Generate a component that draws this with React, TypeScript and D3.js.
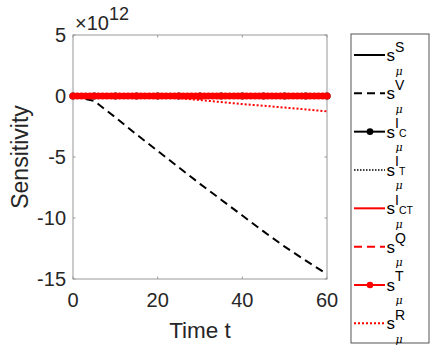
import React from 'react';
import * as d3 from 'd3';

// time grids
const timeCoarse = [0, 5, 10, 15, 20, 25, 30, 35, 40, 45, 50, 55, 60];
const timeFine = [
  0, 1, 2, 3, 4, 5, 6, 7, 8, 9, 10, 11, 12, 13, 14, 15, 16, 17, 18, 19, 20,
  21, 22, 23, 24, 25, 26, 27, 28, 29, 30, 31, 32, 33, 34, 35, 36, 37, 38, 39, 40,
  41, 42, 43, 44, 45, 46, 47, 48, 49, 50, 51, 52, 53, 54, 55, 56, 57, 58, 59, 60,
];

// sensitivities, in units of 1e12
const sS = [0, 0, 0, 0, 0, 0, 0, 0, 0, 0, 0, 0, 0];
const sV = [0, -0.4, -1.75, -3.15, -4.5, -5.85, -7.2, -8.5, -9.8, -11.1, -12.35, -13.5, -14.6];
const sIC = [0, 0, 0, 0, 0, 0, 0, 0, 0, 0, 0, 0, 0];
const sIT = [0, 0, 0, 0, 0, 0, 0, 0, 0, 0, 0, 0, 0];
const sICT = [0, 0, 0, 0, 0, 0, 0, 0, 0, 0, 0, 0, 0];
const sQ = [0, 0, 0, 0, 0, 0, 0, 0, 0, 0, 0, 0, 0];
const sT = [
  0, 0, 0, 0, 0, 0, 0, 0, 0, 0, 0, 0, 0, 0, 0, 0, 0, 0, 0, 0, 0,
  0, 0, 0, 0, 0, 0, 0, 0, 0, 0, 0, 0, 0, 0, 0, 0, 0, 0, 0, 0,
  0, 0, 0, 0, 0, 0, 0, 0, 0, 0, 0, 0, 0, 0, 0, 0, 0, 0, 0, 0,
];
const sR = [0, 0, 0, 0, -0.05, -0.18, -0.33, -0.5, -0.66, -0.8, -0.95, -1.1, -1.26];

const xTicks = [0, 20, 40, 60];
const yTicks = [5, 0, -5, -10, -15];
const legendSup = ['S', 'V', 'I', 'I', 'I', 'Q', 'T', 'R'];
const legendSupSub = ['', '', 'C', 'T', 'CT', '', '', ''];

const W = 433;
const H = 352;
const FONT = '"Liberation Sans", Arial, Helvetica, sans-serif';
const MU_FONT = '"DejaVu Serif", "Liberation Serif", serif';

const x = d3.scaleLinear().domain([0, 60]).range([73, 327]);
const y = d3.scaleLinear().domain([-15, 5]).range([279, 35]);

type Style = { color: string; dash?: string; width: number; marker?: boolean };

const series: { t: number[]; v: number[]; s: Style }[] = [
  { t: timeCoarse, v: sS, s: { color: '#000', width: 2 } },
  { t: timeCoarse, v: sV, s: { color: '#000', width: 2, dash: '8,5' } },
  { t: timeCoarse, v: sIC, s: { color: '#000', width: 2, marker: true } },
  { t: timeCoarse, v: sIT, s: { color: '#000', width: 1.5, dash: '1.5,1.5' } },
  { t: timeCoarse, v: sICT, s: { color: '#ff0000', width: 2 } },
  { t: timeCoarse, v: sQ, s: { color: '#ff0000', width: 2, dash: '8,5' } },
  { t: timeFine, v: sT, s: { color: '#ff0000', width: 2, marker: true } },
  { t: timeCoarse, v: sR, s: { color: '#ff0000', width: 2, dash: '2,2' } },
];

const line = d3.line<[number, number]>().x(d => x(d[0])).y(d => y(d[1]));

export default function App() {
  const axisColor = '#999';
  const textColor = '#262626';
  const legX0 = 351, legY0 = 34, legX1 = 429, legY1 = 343;
  const rowY = (i: number) => 55 + i * 38.33;

  return (
    <svg width={W} height={H} style={{ position: 'absolute', left: 0, top: 0, background: '#fff' }}
      fontFamily={FONT}>
      <rect x={0} y={0} width={W} height={H} fill="#fff" />

      {/* plot box */}
      <rect x={x(0)} y={y(5)} width={x(60) - x(0)} height={y(-15) - y(5)}
        fill="#fff" stroke={axisColor} strokeWidth={1} />
      {xTicks.map(t => (
        <g key={'xt' + t}>
          <line x1={x(t)} x2={x(t)} y1={y(-15)} y2={y(-15) - 2.5} stroke={axisColor} />
          <line x1={x(t)} x2={x(t)} y1={y(5)} y2={y(5) + 2.5} stroke={axisColor} />
          <text x={x(t)} y={307} textAnchor="middle" fontSize={20} fill={textColor}>{t}</text>
        </g>
      ))}
      {yTicks.map(v => (
        <g key={'yt' + v}>
          <line x1={x(0)} x2={x(0) + 2.5} y1={y(v)} y2={y(v)} stroke={axisColor} />
          <line x1={x(60)} x2={x(60) - 2.5} y1={y(v)} y2={y(v)} stroke={axisColor} />
          <text x={66} y={y(v) + 7} textAnchor="end" fontSize={20} fill={textColor}>{v}</text>
        </g>
      ))}
      <text x={75} y={30} fontSize={20} fill={textColor}>
        ×10<tspan dy={-10} fontSize={18}>12</tspan>
      </text>
      <text x={200} y={338} textAnchor="middle" fontSize={22.5} fill={textColor}>Time t</text>
      <text transform={`translate(28,${y(-5)}) rotate(-90)`} textAnchor="middle" fontSize={23}
        fill={textColor}>Sensitivity</text>

      {/* data */}
      {series.map((d, i) => {
        const pts = d.t.map((t, j) => [t, d.v[j]] as [number, number]);
        return (
          <g key={'s' + i}>
            <path d={line(pts) || ''} fill="none" stroke={d.s.color} strokeWidth={d.s.width}
              strokeDasharray={d.s.dash} />
            {d.s.marker && pts.map((p, j) => (
              <circle key={j} cx={x(p[0])} cy={y(p[1])} r={3.6} fill={d.s.color} />
            ))}
          </g>
        );
      })}

      {/* legend */}
      <rect x={legX0} y={legY0} width={legX1 - legX0} height={legY1 - legY0} fill="#fff"
        stroke="#555" strokeWidth={1} />
      {series.map((d, i) => {
        const ly = rowY(i);
        return (
          <g key={'l' + i}>
            <line x1={354} x2={385} y1={ly} y2={ly} stroke={d.s.color} strokeWidth={d.s.width}
              strokeDasharray={d.s.dash} />
            {d.s.marker && <circle cx={370} cy={ly} r={3.3} fill={d.s.color} />}
            {/* s^{sup_{sub}}_mu, as one text element */}
            <text fill="#000">
              <tspan x={386.5} y={ly + 6} fontSize={17}>s</tspan>
              <tspan x={395} y={ly - 3.5} fontSize={14}>{legendSup[i]}</tspan>
              {legendSupSub[i] && (
                <tspan x={399} y={ly + 5.5} fontSize={10.5}>{legendSupSub[i]}</tspan>
              )}
              <tspan x={395.5} y={ly + 19.5} fontSize={11} fontStyle="italic"
                fontFamily={MU_FONT}>μ</tspan>
            </text>
          </g>
        );
      })}
    </svg>
  );
}
